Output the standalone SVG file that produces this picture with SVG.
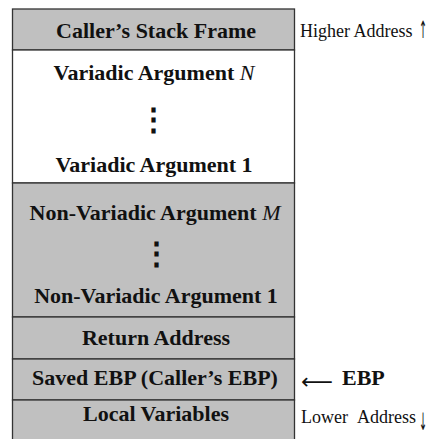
<svg xmlns="http://www.w3.org/2000/svg" width="432" height="439" viewBox="0 0 432 439">
<style>
.box{stroke:#333;stroke-width:1.3}
.g{fill:#c0c0c0}
.w{fill:#fff}
.t{font-family:'Liberation Serif','DejaVu Serif',serif;font-size:22px;font-weight:bold;fill:#111;text-anchor:middle}
.m{font-style:italic;font-weight:normal}
.s{font-family:'Liberation Serif','DejaVu Serif',serif;font-size:18px;fill:#111}
.ar{font-family:'DejaVu Sans',sans-serif;fill:#111}
.dots{font-family:'DejaVu Serif',serif;font-size:31px;font-weight:bold;fill:#111;text-anchor:middle}
</style>
<rect width="432" height="439" fill="#fff"/>
<g id="callers-frame"><rect class="box g" x="12.5" y="9" width="282" height="41"/><text class="t" x="156" y="37.5">Caller’s Stack Frame</text></g>
<g id="variadic"><rect class="box w" x="12.5" y="50" width="282" height="133"/>
<text class="t" x="154" y="80">Variadic Argument <tspan class="m">N</tspan></text>
<text class="dots" x="153.5" y="130">⋮</text>
<text class="t" x="154" y="171.5">Variadic Argument 1</text></g>
<g id="non-variadic"><rect class="box g" x="12.5" y="183" width="282" height="134"/>
<text class="t" x="155" y="220">Non-Variadic Argument <tspan class="m">M</tspan></text>
<text class="dots" x="156" y="264">⋮</text>
<text class="t" x="156" y="303">Non-Variadic Argument 1</text></g>
<g id="return-address"><rect class="box g" x="12.5" y="317" width="282" height="42"/><text class="t" x="156" y="345">Return Address</text></g>
<g id="saved-ebp"><rect class="box g" x="12.5" y="359" width="282" height="41"/><text class="t" x="155" y="385">Saved EBP (Caller’s EBP)</text></g>
<g id="local-vars"><rect class="box g" x="12.5" y="400" width="282" height="45"/><text class="t" x="156" y="421">Local Variables</text></g>
<g id="labels">
<text class="s" x="300" y="37">Higher Address</text>
<text class="ar" transform="translate(419,38) scale(0.6,1.5)" font-size="16">↑</text>
<text class="ar" x="301" y="389" font-size="22" textLength="32" lengthAdjust="spacingAndGlyphs">⟵</text>
<text class="t" x="342" y="385" style="text-anchor:start">EBP</text>
<text class="s" x="301" y="423">Lower<tspan dx="9">Address</tspan></text>
<text class="ar" transform="translate(419,430) scale(0.6,1.5)" font-size="16">↓</text>
</g>
</svg>
